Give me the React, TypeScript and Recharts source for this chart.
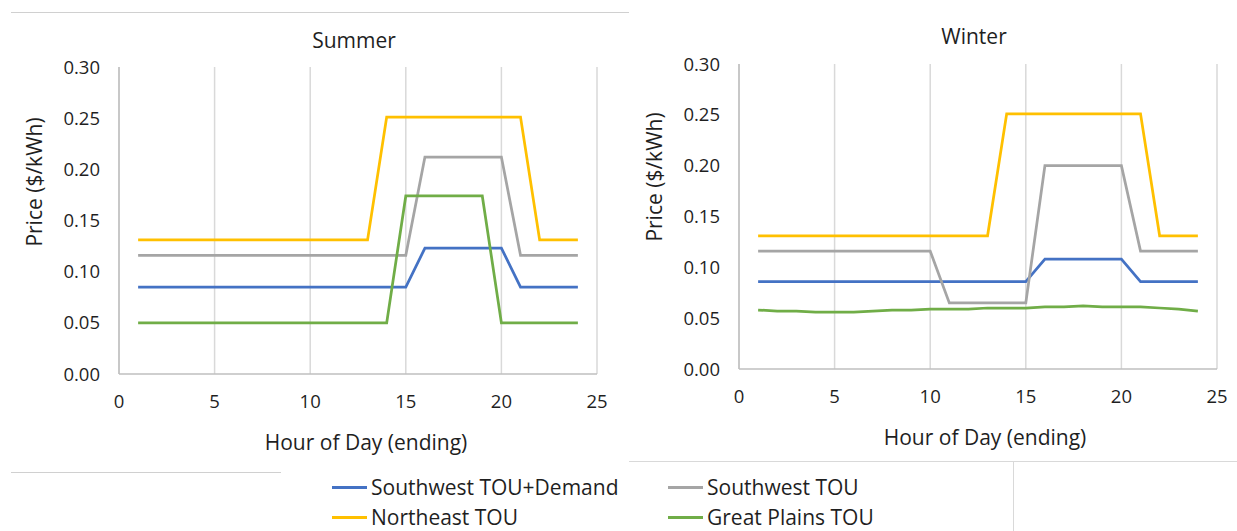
import React from 'react';
import { LineChart, Line, XAxis, YAxis, CartesianGrid } from 'recharts';

const hours = [1, 2, 3, 4, 5, 6, 7, 8, 9, 10, 11, 12, 13, 14, 15, 16, 17, 18, 19, 20, 21, 22, 23, 24];

const summerSwDemand = [0.085, 0.085, 0.085, 0.085, 0.085, 0.085, 0.085, 0.085, 0.085, 0.085, 0.085, 0.085, 0.085, 0.085, 0.085, 0.123, 0.123, 0.123, 0.123, 0.123, 0.085, 0.085, 0.085, 0.085];
const summerSwTou = [0.116, 0.116, 0.116, 0.116, 0.116, 0.116, 0.116, 0.116, 0.116, 0.116, 0.116, 0.116, 0.116, 0.116, 0.116, 0.212, 0.212, 0.212, 0.212, 0.212, 0.116, 0.116, 0.116, 0.116];
const summerNeTou = [0.131, 0.131, 0.131, 0.131, 0.131, 0.131, 0.131, 0.131, 0.131, 0.131, 0.131, 0.131, 0.131, 0.251, 0.251, 0.251, 0.251, 0.251, 0.251, 0.251, 0.251, 0.131, 0.131, 0.131];
const summerGpTou = [0.05, 0.05, 0.05, 0.05, 0.05, 0.05, 0.05, 0.05, 0.05, 0.05, 0.05, 0.05, 0.05, 0.05, 0.174, 0.174, 0.174, 0.174, 0.174, 0.05, 0.05, 0.05, 0.05, 0.05];

const winterSwDemand = [0.086, 0.086, 0.086, 0.086, 0.086, 0.086, 0.086, 0.086, 0.086, 0.086, 0.086, 0.086, 0.086, 0.086, 0.086, 0.108, 0.108, 0.108, 0.108, 0.108, 0.086, 0.086, 0.086, 0.086];
const winterSwTou = [0.116, 0.116, 0.116, 0.116, 0.116, 0.116, 0.116, 0.116, 0.116, 0.116, 0.065, 0.065, 0.065, 0.065, 0.065, 0.2, 0.2, 0.2, 0.2, 0.2, 0.116, 0.116, 0.116, 0.116];
const winterNeTou = [0.131, 0.131, 0.131, 0.131, 0.131, 0.131, 0.131, 0.131, 0.131, 0.131, 0.131, 0.131, 0.131, 0.251, 0.251, 0.251, 0.251, 0.251, 0.251, 0.251, 0.251, 0.131, 0.131, 0.131];
const winterGpTou = [0.058, 0.057, 0.057, 0.056, 0.056, 0.056, 0.057, 0.058, 0.058, 0.059, 0.059, 0.059, 0.06, 0.06, 0.06, 0.061, 0.061, 0.062, 0.061, 0.061, 0.061, 0.06, 0.059, 0.057];

const xTicks = [0, 5, 10, 15, 20, 25];
const yTicks = [0, 0.05, 0.1, 0.15, 0.2, 0.25, 0.3];

const series = [
  { key: 'swDemand', name: 'Southwest TOU+Demand', color: '#4472C4' },
  { key: 'swTou', name: 'Southwest TOU', color: '#A5A5A5' },
  { key: 'neTou', name: 'Northeast TOU', color: '#FFC000' },
  { key: 'gpTou', name: 'Great Plains TOU', color: '#70AD47' },
];

const summerData = hours.map((h, i) => ({
  hour: h,
  swDemand: summerSwDemand[i],
  swTou: summerSwTou[i],
  neTou: summerNeTou[i],
  gpTou: summerGpTou[i],
}));

const winterData = hours.map((h, i) => ({
  hour: h,
  swDemand: winterSwDemand[i],
  swTou: winterSwTou[i],
  neTou: winterNeTou[i],
  gpTou: winterGpTou[i],
}));

const FONT = '"Open Sans", sans-serif';
const TEXT = '#1f1f1f';
const tickStyle = { fontSize: 18.5, fill: TEXT, fontFamily: FONT };

interface PanelProps {
  data: any[];
  width: number;
  height: number;
  margin: { top: number; right: number; left: number; bottom: number };
  xAxisHeight: number;
}

const Panel: React.FC<PanelProps> = ({ data, width, height, margin, xAxisHeight }) => (
  <LineChart width={width} height={height} data={data} margin={margin}>
    <CartesianGrid horizontal={false} stroke="#D9D9D9" strokeWidth={1.5} />
    <XAxis
      dataKey="hour"
      type="number"
      domain={[0, 25]}
      ticks={xTicks}
      height={xAxisHeight}
      tickLine={false}
      tickSize={0}
      tickMargin={21}
      axisLine={{ stroke: '#BFBFBF', strokeWidth: 1.5 }}
      tick={tickStyle}
    />
    <YAxis
      type="number"
      domain={[0, 0.3]}
      ticks={yTicks}
      width={119}
      tickLine={false}
      tickSize={0}
      tickMargin={19}
      axisLine={{ stroke: '#BFBFBF', strokeWidth: 1.5 }}
      tick={tickStyle}
      tickFormatter={(v: number) => v.toFixed(2)}
    />
    {series.map((s) => (
      <Line
        key={s.key}
        type="linear"
        dataKey={s.key}
        name={s.name}
        stroke={s.color}
        strokeWidth={2.75}
        dot={false}
        isAnimationActive={false}
      />
    ))}
  </LineChart>
);

const abs = (left: number, top: number, extra: React.CSSProperties = {}): React.CSSProperties => ({
  position: 'absolute',
  left,
  top,
  ...extra,
});

const centered = (x: number, y: number, size: number, rotate = false): React.CSSProperties => ({
  position: 'absolute',
  left: x,
  top: y,
  transform: `translate(-50%, -50%)${rotate ? ' rotate(-90deg)' : ''}`,
  whiteSpace: 'nowrap',
  fontSize: size,
  fontFamily: FONT,
  color: TEXT,
  lineHeight: 1,
});

const App: React.FC = () => {
  return (
    <div style={{ position: 'absolute', left: 0, top: 0, width: 1237, height: 531, background: '#fff', overflow: 'hidden' }}>
      {/* frame lines */}
      <div style={abs(11, 12, { width: 618, height: 0, borderTop: '1.5px solid #D0D0D0' })} />
      <div style={abs(11, 472, { width: 270, height: 0, borderTop: '1.5px solid #D0D0D0' })} />
      <div style={abs(629, 461, { width: 608, height: 0, borderTop: '1.5px solid #D9D9D9' })} />
      <div style={abs(1013, 461, { width: 0, height: 70, borderLeft: '1.5px solid #D9D9D9' })} />

      <div style={abs(0, 0)}>
        <Panel data={summerData} width={630} height={460} margin={{ top: 67, right: 33, left: 0, bottom: 0 }} xAxisHeight={86} />
      </div>
      <div style={abs(620, 0)}>
        <Panel data={winterData} width={617} height={460} margin={{ top: 64, right: 20, left: 0, bottom: 0 }} xAxisHeight={91} />
      </div>

      <div style={centered(354, 40, 21)}>Summer</div>
      <div style={centered(974, 36, 21)}>Winter</div>
      <div style={centered(366, 442, 21)}>Hour of Day (ending)</div>
      <div style={centered(985, 437, 21)}>Hour of Day (ending)</div>
      <div style={centered(34, 182, 21, true)}>Price ($/kWh)</div>
      <div style={centered(654, 177, 21, true)}>Price ($/kWh)</div>

      {/* legend */}
      {series.map((s, i) => {
        const col = i % 2;
        const row = Math.floor(i / 2);
        const x = col === 0 ? 332 : 668;
        const y = row === 0 ? 487 : 517;
        return (
          <div key={s.key} style={abs(x, y - 15, { height: 30, display: 'flex', alignItems: 'center' })}>
            <div style={{ width: 35, height: 3, background: s.color, marginRight: 4 }} />
            <span style={{ fontSize: 21, fontFamily: FONT, color: TEXT, whiteSpace: 'nowrap' }}>{s.name}</span>
          </div>
        );
      })}
    </div>
  );
};

export default App;
